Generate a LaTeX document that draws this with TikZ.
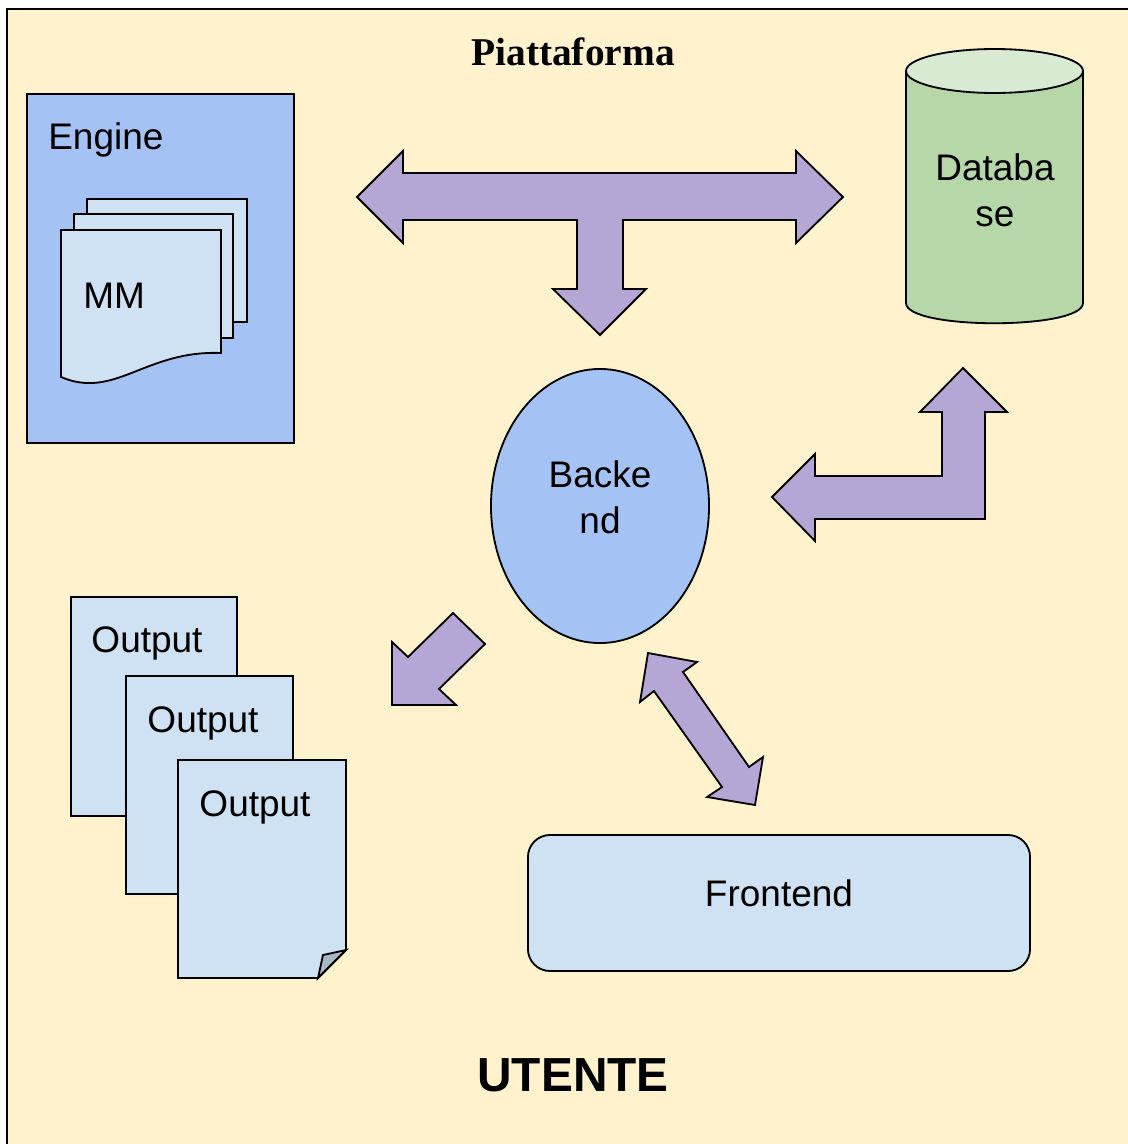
\documentclass[tikz,border=0pt]{standalone}
\usepackage{fontspec}
\setmainfont{Liberation Serif}
\setsansfont{Liberation Sans}
\usetikzlibrary{shapes.geometric}
\definecolor{platformfill}{HTML}{FFF2CC}
\definecolor{pagefill}{HTML}{CFE2F3}
\definecolor{blockfill}{HTML}{A4C2F4}
\definecolor{arrowfill}{HTML}{B4A7D6}
\definecolor{dbbody}{HTML}{B6D7A8}
\definecolor{dbtop}{HTML}{D9EAD3}
\definecolor{foldfill}{HTML}{A9B8C6}
\begin{document}
\begin{tikzpicture}[x=0.025cm,y=-0.025cm,
	every node/.style={font=\sffamily\fontsize{26.3}{33}\selectfont,inner sep=0,align=center},
	box/.style={draw,line width=1.3pt,line join=miter},
	page/.style={box,fill=pagefill},
	blockarrow/.style={box,fill=arrowfill}]
\useasboundingbox (0,0) rectangle (1128,1144);
\draw[box,line width=1.6pt,fill=platformfill] (7,9) rectangle (1140,1160);
\node[font=\rmfamily\bfseries\fontsize{28}{32}\selectfont] (piattaforma) at (573,52) {Piattaforma};
\node[font=\sffamily\bfseries\fontsize{34}{40}\selectfont] (utente) at (573,1075) {UTENTE};

\draw[box,fill=blockfill] (27,94) rectangle (294,443);
\node[anchor=base west] (engine) at (48,149) {Engine};
\draw[page] (87,199) rectangle (247,322);
\draw[page] (74,214) rectangle (233,338);
\draw[page] (61,230) -- (221,230) -- (221,353)
	.. controls (145,350) and (115,400) .. (61,377) -- cycle;
\node[anchor=base west] (mm) at (83,308) {MM};

\draw[box,fill=dbbody] (906,71) -- (906,303)
	.. controls (906,330) and (1083,330) .. (1083,303) -- (1083,71);
\draw[box,fill=dbtop] (994.5,71) ellipse [x radius=88.5,y radius=22];
\node (database) at (995,190) {Databa\\se};

\node[ellipse,box,fill=blockfill,minimum width=5.45cm,minimum height=6.85cm] (backend) at (600,506) {};
\node (backendtext) at (600,497) {Backe\\nd};

\draw[page] (71,597) rectangle (237,816);
\node[anchor=base] (output1) at (147,652) {Output};
\draw[page] (126,676) rectangle (293,894);
\node[anchor=base] (output2) at (203,732) {Output};
\draw[page] (178,760) -- (346,760) -- (346,950) -- (318,978) -- (178,978) -- cycle;
\draw[box,fill=foldfill] (346,950) -- (323,955) -- (318,978) -- cycle;
\node[anchor=base] (output3) at (255,816) {Output};

\node[box,fill=pagefill,rounded corners=0.55cm,minimum width=12.55cm,minimum height=3.4cm] (frontend) at (779,903) {};
\node (frontendtext) at (779,893) {Frontend};

\draw[blockarrow] (357,197) -- (403,151) -- (403,173) -- (796,173) -- (796,151) -- (843,197)
	-- (796,243) -- (796,220) -- (623,220) -- (623,289) -- (646,289) -- (600,335)
	-- (553,289) -- (577,289) -- (577,220) -- (403,220) -- (403,243) -- cycle;
\draw[blockarrow] (772,497) -- (815,454) -- (815,476) -- (942,476) -- (942,412) -- (920,412)
	-- (963,368) -- (1007,412) -- (985,412) -- (985,519) -- (815,519) -- (815,541) -- cycle;
\draw[blockarrow] (392,642) -- (408,657) -- (453,613) -- (485,644) -- (439,689) -- (456,705)
	-- (392,705) -- cycle;
\draw[blockarrow] (648,653) -- (697,662) -- (683,672) -- (749,767) -- (763,757) -- (755,805)
	-- (707,797) -- (722,787) -- (654,691) -- (640,702) -- cycle;
\end{tikzpicture}
\end{document}
